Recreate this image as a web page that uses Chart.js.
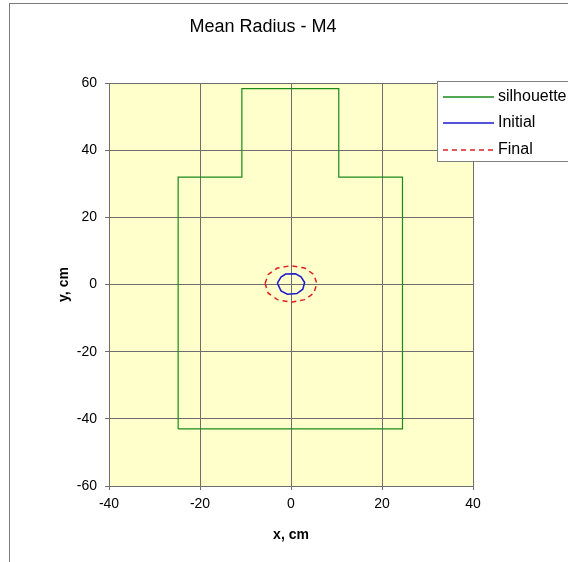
<!DOCTYPE html>
<html>
<head>
<meta charset="utf-8">
<script src="https://cdn.jsdelivr.net/npm/chart.js@4/dist/chart.umd.min.js"></script>
<style>
  html, body { margin: 0; padding: 0; background: #fff; overflow: hidden; }
  #wrap { position: relative; width: 568px; height: 562px; }
  #frame { position: absolute; left: 9px; top: 3px; width: 700px; height: 700px; border: 1px solid #7a7a7a; box-sizing: border-box; }
  canvas { position: absolute; left: 0; top: 0; }
</style>
</head>
<body>
<div id="wrap">
  <div id="frame"></div>
  <canvas id="chart" width="568" height="562"></canvas>
</div>
<script>
const titleText = 'Mean Radius - M4';
const xTitle = 'x, cm';
const yTitle = 'y, cm';
const seriesNames = ['silhouette', 'Initial', 'Final'];
const seriesColors = ['#1a8a1a', '#1a1acc', '#e02020'];

// silhouette outline (body box + head box)
const silhouetteX = [-24.8, 24.5, 24.5, 10.5, 10.5, -10.8, -10.8, -24.8, -24.8];
const silhouetteY = [-43, -43, 32, 32, 58.3, 58.3, 32, 32, -43];

// initial contour
const initialX = [-3.0, -2.2, -1.2, 1.0, 2.2, 3.0, 2.6, 1.3, -0.8, -2.2, -3.0];
const initialY = [0.4, 2.2, 3.1, 3.2, 2.3, 0.6, -1.4, -2.7, -2.9, -1.9, 0.4];

// final contour
const finalX = [-5.7, -5.0, -3.0, 0.0, 3.0, 5.0, 5.7, 5.0, 3.0, 0.0, -3.0, -5.0, -5.7];
const finalY = [0.3, 3.0, 4.9, 5.6, 4.9, 3.0, 0.3, -2.6, -4.5, -5.3, -4.5, -2.6, 0.3];

const xTicks = [-40, -20, 0, 20, 40];
const yTicks = [-60, -40, -20, 0, 20, 40, 60];

function toPoints(xs, ys) {
  return xs.map((x, i) => ({ x: x, y: ys[i] }));
}

const plotBg = {
  id: 'plotBg',
  beforeDraw(chart) {
    const { ctx, chartArea: a } = chart;
    ctx.save();
    ctx.fillStyle = '#ffffcc';
    ctx.fillRect(a.left, a.top, a.right - a.left, a.bottom - a.top);
    ctx.restore();
  }
};

const extras = {
  id: 'extras',
  afterDraw(chart) {
    const ctx = chart.ctx;
    const a = chart.chartArea;
    ctx.save();
    ctx.fillStyle = '#000';
    ctx.textAlign = 'center';
    ctx.textBaseline = 'middle';
    ctx.font = '18px Arial, "Liberation Sans", sans-serif';
    ctx.fillText(titleText, 263, 27);
    ctx.font = 'bold 14px Arial, "Liberation Sans", sans-serif';
    ctx.fillText(xTitle, (a.left + a.right) / 2, 535);
    ctx.translate(64, (a.top + a.bottom) / 2);
    ctx.rotate(-Math.PI / 2);
    ctx.fillText(yTitle, 0, 0);
    ctx.restore();

    // legend box
    ctx.save();
    ctx.fillStyle = '#fff';
    ctx.fillRect(437.5, 81.5, 160, 80);
    ctx.strokeStyle = '#808080';
    ctx.lineWidth = 1;
    ctx.strokeRect(437.5, 81.5, 160, 80);
    const rows = [97, 123, 150];
    ctx.font = '16px Arial, "Liberation Sans", sans-serif';
    ctx.textAlign = 'left';
    ctx.textBaseline = 'middle';
    seriesNames.forEach((name, i) => {
      ctx.beginPath();
      ctx.strokeStyle = seriesColors[i];
      ctx.lineWidth = 1.5;
      ctx.setLineDash(i === 2 ? [5, 4] : []);
      ctx.moveTo(443, rows[i]);
      ctx.lineTo(494, rows[i]);
      ctx.stroke();
      ctx.setLineDash([]);
      ctx.fillStyle = '#000';
      ctx.fillText(name, 498, rows[i]);
    });
    ctx.restore();
  }
};

new Chart(document.getElementById('chart'), {
  type: 'scatter',
  data: {
    datasets: [
      {
        label: seriesNames[0],
        data: toPoints(silhouetteX, silhouetteY),
        borderColor: seriesColors[0],
        borderWidth: 1.2,
        showLine: true,
        pointRadius: 0
      },
      {
        label: seriesNames[1],
        data: toPoints(initialX, initialY),
        borderColor: seriesColors[1],
        borderWidth: 1.5,
        showLine: true,
        pointRadius: 0
      },
      {
        label: seriesNames[2],
        data: toPoints(finalX, finalY),
        borderColor: seriesColors[2],
        borderWidth: 1.5,
        borderDash: [5, 4],
        showLine: true,
        pointRadius: 0
      }
    ]
  },
  options: {
    responsive: false,
    animation: false,
    layout: { padding: { left: 0, top: 83, right: 95, bottom: 0 } },
    plugins: {
      legend: { display: false },
      tooltip: { enabled: false }
    },
    scales: {
      x: {
        type: 'linear',
        min: -40,
        max: 40,
        afterFit(scale) { scale.height = 76; },
        afterBuildTicks(scale) { scale.ticks = xTicks.map(v => ({ value: v })); },
        ticks: {
          color: '#000',
          font: { family: 'Arial, "Liberation Sans", sans-serif', size: 14 },
          padding: 6,
          maxRotation: 0
        },
        grid: { color: '#6e6e6e', tickLength: 4, lineWidth: 1 },
        border: { color: '#6e6e6e' }
      },
      y: {
        type: 'linear',
        min: -60,
        max: 60,
        afterFit(scale) { scale.width = 109; },
        afterBuildTicks(scale) { scale.ticks = yTicks.map(v => ({ value: v })); },
        ticks: {
          color: '#000',
          font: { family: 'Arial, "Liberation Sans", sans-serif', size: 14 },
          padding: 8
        },
        grid: { color: '#6e6e6e', tickLength: 4, lineWidth: 1 },
        border: { color: '#6e6e6e' }
      }
    }
  },
  plugins: [plotBg, extras]
});
</script>
</body>
</html>
